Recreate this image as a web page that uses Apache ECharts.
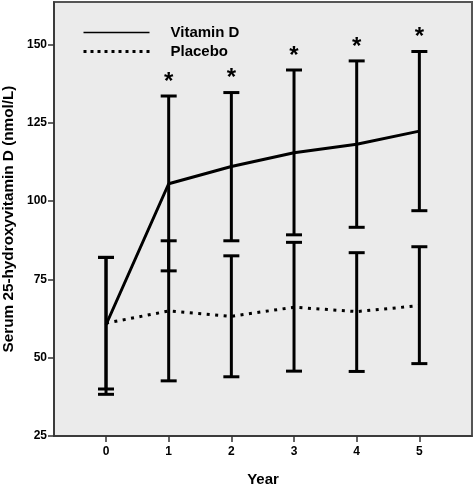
<!DOCTYPE html>
<html>
<head>
<meta charset="utf-8">
<script src="https://cdn.jsdelivr.net/npm/echarts@6/dist/echarts.min.js"></script>
<style>
html,body{margin:0;padding:0;background:#fff;}
#chart{width:474px;height:484px;}
</style>
</head>
<body>
<div id="chart"></div>
<script>
// ---- data ----
const years = [0, 1, 2, 3, 4, 5];
const vitDMean  = [60.5, 105.5, 111.0, 115.4, 118.1, 122.3];
const vitDLow   = [40.0, 77.7, 87.3, 89.2, 91.6, 96.9];
const vitDHigh  = [82.0, 133.5, 134.6, 141.8, 144.7, 147.7];
const placMean  = [61.0, 64.9, 63.2, 66.1, 64.7, 66.6];
const placLow   = [38.3, 42.6, 43.9, 45.7, 45.6, 48.1];
const placHigh  = [82.0, 87.3, 82.5, 86.8, 83.5, 85.4];
const significant = [false, true, true, true, true, true];
const xTicks = [0, 1, 2, 3, 4, 5];
const yTicks = [25, 50, 75, 100, 125, 150];

const FONT = '"Liberation Sans", Arial, Helvetica, sans-serif';

function toXY(xs, ys) { return xs.map((x, i) => [x, ys[i]]); }
function toBars(xs, lo, hi) { return xs.map((x, i) => [x, lo[i], hi[i]]); }

function errorBarRender(params, api) {
  const x = api.value(0);
  const lo = api.coord([x, api.value(1)]);
  const hi = api.coord([x, api.value(2)]);
  const hw = 8;
  const style = { stroke: '#000', lineWidth: 3, fill: null };
  return {
    type: 'group',
    children: [
      { type: 'line', shape: { x1: lo[0], y1: lo[1], x2: hi[0], y2: hi[1] }, style: style },
      { type: 'line', shape: { x1: lo[0] - hw, y1: lo[1], x2: lo[0] + hw, y2: lo[1] }, style: style },
      { type: 'line', shape: { x1: hi[0] - hw, y1: hi[1], x2: hi[0] + hw, y2: hi[1] }, style: style }
    ]
  };
}

function starRender(params, api) {
  const idx = params.dataIndex;
  if (!significant[idx]) return null;
  const p = api.coord([api.value(0), api.value(1)]);
  return {
    type: 'text',
    x: p[0], y: p[1] - 2,
    style: { text: '*', fontSize: 24, fontWeight: 'bold', fontFamily: FONT, fill: '#000', align: 'center', verticalAlign: 'bottom' }
  };
}

const chart = echarts.init(document.getElementById('chart'), null, { renderer: 'canvas' });
chart.setOption({
  animation: false,
  backgroundColor: '#ffffff',
  grid: {
    left: 54, top: 2, right: 2, bottom: 48,
    outerBoundsMode: 'none', containLabel: false,
    show: true, backgroundColor: '#ebebeb', borderColor: '#555', borderWidth: 2
  },
  legend: {
    orient: 'vertical',
    left: 82, top: 25, padding: 0,
    itemWidth: 66, itemHeight: 14, itemGap: 4,
    textStyle: { fontFamily: FONT, fontWeight: 'bold', fontSize: 15, color: '#000', padding: [0, 0, 0, 16] },
    data: [
      { name: 'Vitamin D', lineStyle: { width: 1.5, color: '#000', type: 'solid' }, itemStyle: { color: 'rgba(0,0,0,0)', borderWidth: 0, opacity: 0 } },
      { name: 'Placebo', lineStyle: { width: 3, color: '#000', type: [3, 4] }, itemStyle: { color: 'rgba(0,0,0,0)', borderWidth: 0, opacity: 0 } }
    ]
  },
  xAxis: {
    type: 'value', min: -0.83, max: 5.84,
    name: 'Year', nameLocation: 'middle', nameGap: 36,
    nameTextStyle: { fontFamily: FONT, fontWeight: 'bold', fontSize: 15, color: '#000' },
    axisLine: { show: true, onZero: false, lineStyle: { color: '#333', width: 1.5 } },
    axisTick: { show: true, length: 6, customValues: xTicks, lineStyle: { color: '#333', width: 1.5 } },
    axisLabel: { customValues: xTicks, margin: 10, fontFamily: FONT, fontWeight: 'bold', fontSize: 12, color: '#000' },
    splitLine: { show: false }
  },
  yAxis: {
    type: 'value', min: 25, max: 163.5,
    name: 'Serum 25-hydroxyvitamin D (nmol/L)', nameLocation: 'middle', nameGap: 37,
    nameTextStyle: { fontFamily: FONT, fontWeight: 'bold', fontSize: 15.3, color: '#000' },
    axisLine: { show: true, onZero: false, lineStyle: { color: '#333', width: 1.5 } },
    axisTick: { show: true, length: 6, customValues: yTicks, lineStyle: { color: '#333', width: 1.5 } },
    axisLabel: { customValues: yTicks, margin: 7, fontFamily: FONT, fontWeight: 'bold', fontSize: 12, color: '#000' },
    splitLine: { show: false }
  },
  series: [
    {
      name: 'Vitamin D', type: 'line', data: toXY(years, vitDMean),
      symbol: 'none', lineStyle: { color: '#000', width: 3 }, itemStyle: { color: '#000' }, z: 3
    },
    {
      name: 'Placebo', type: 'line', data: toXY(years, placMean),
      symbol: 'none', lineStyle: { color: '#000', width: 3, type: [3, 5.5] }, itemStyle: { color: '#000' }, z: 3
    },
    { name: 'vitDErr', type: 'custom', renderItem: errorBarRender, data: toBars(years, vitDLow, vitDHigh), z: 4 },
    { name: 'placErr', type: 'custom', renderItem: errorBarRender, data: toBars(years, placLow, placHigh), z: 4 },
    { name: 'sig', type: 'custom', renderItem: starRender, data: toXY(years, vitDHigh), z: 5 }
  ]
});
</script>
</body>
</html>
